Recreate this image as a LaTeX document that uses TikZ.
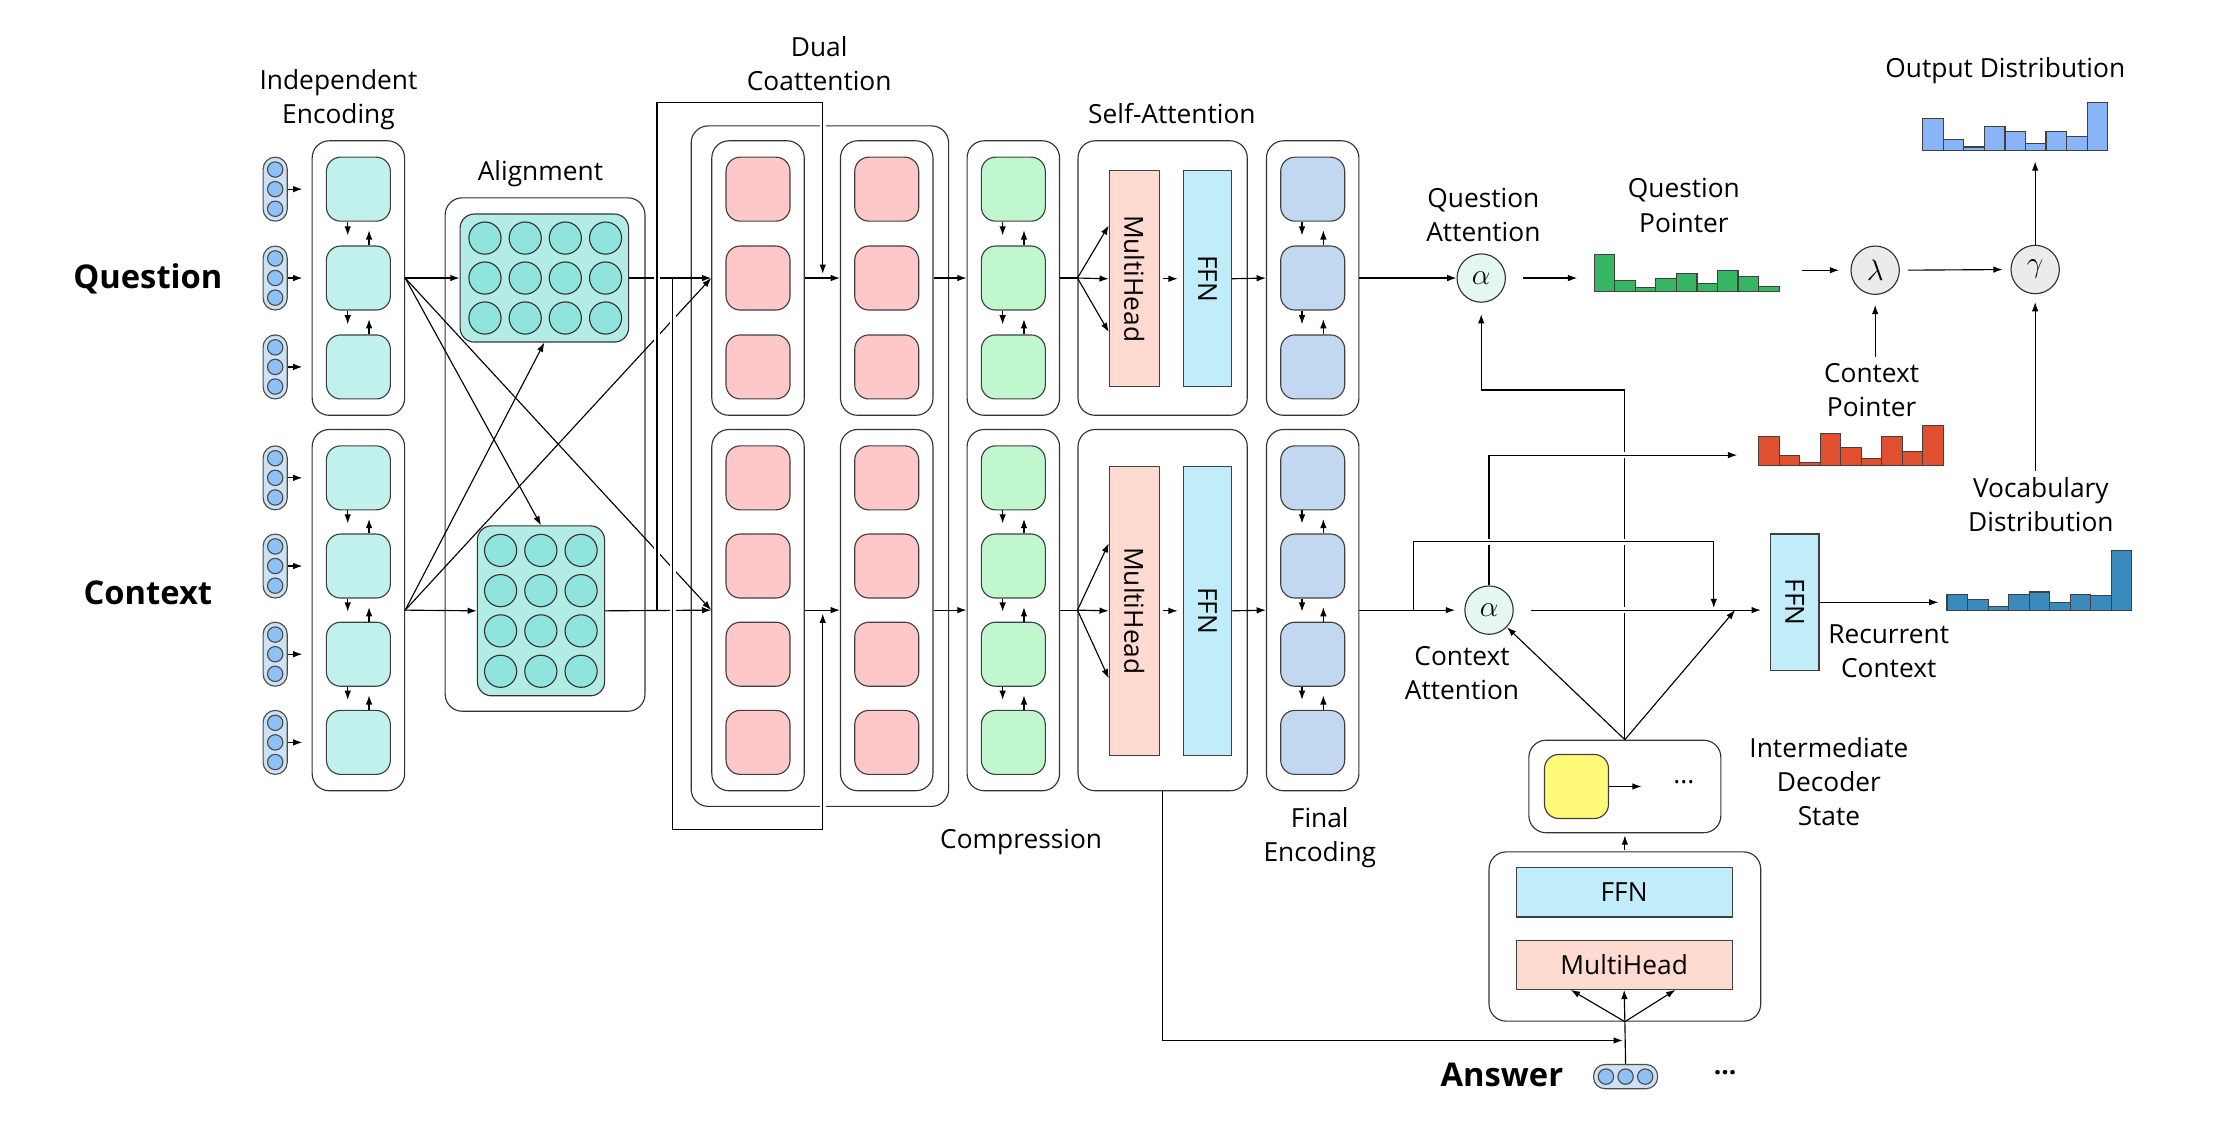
\documentclass[tikz,border=0pt]{standalone}
\usepackage{fontspec}
\setmainfont{Open Sans}
\usetikzlibrary{arrows.meta}

\definecolor{tokfill}{RGB}{207,226,243}
\definecolor{dotfill}{RGB}{142,194,245}
\definecolor{encfill}{RGB}{192,241,236}
\definecolor{gridfill}{RGB}{178,236,228}
\definecolor{beadfill}{RGB}{143,229,222}
\definecolor{pinkfill}{RGB}{255,200,200}
\definecolor{greenfill}{RGB}{192,247,206}
\definecolor{bluefill}{RGB}{193,216,240}
\definecolor{mhfill}{RGB}{255,218,208}
\definecolor{ffnfill}{RGB}{193,236,250}
\definecolor{attfill}{RGB}{228,247,241}
\definecolor{mixfill}{RGB}{235,235,235}
\definecolor{yelfill}{RGB}{255,250,120}
\definecolor{hgreen}{RGB}{54,181,98}
\definecolor{hred}{RGB}{224,80,48}
\definecolor{hblue}{RGB}{138,180,248}
\definecolor{hdark}{RGB}{58,138,188}

\tikzset{
  arr/.style={-{Latex[length=6.5pt,width=4.6pt]}},
  jump/.style={preaction={draw=white,line width=4pt,-,shorten <=4pt,shorten >=4pt}},
  lbl/.style={font=\fontsize{18.5}{24}\selectfont, align=center, inner sep=1pt},
  big/.style={font=\fontsize{23}{28}\selectfont\bfseries, inner sep=1pt},
  pill/.style={draw=black!70, fill=tokfill, rounded corners=8.5pt, minimum width=17pt, minimum height=45pt, inner sep=0pt},
  bead/.style={draw=black!70, fill=dotfill},
  bead2/.style={draw=black!80, fill=beadfill},
  cell/.style={draw=black!75, rounded corners=10pt, minimum size=45pt, inner sep=0pt},
  grp/.style={draw=black!80, rounded corners=12pt, inner sep=0pt},
  grid/.style={draw=black!80, fill=gridfill, rounded corners=10pt, inner sep=0pt},
  blk/.style={draw=black!75, inner sep=0pt, font=\fontsize{18.5}{24}\selectfont},
  att/.style={circle, draw=black!80, fill=attfill, minimum size=34pt, inner sep=0pt, font=\fontsize{20}{20}\selectfont},
  mix/.style={att, fill=mixfill},
  hbox/.style={inner sep=0pt, outer sep=0pt},
  bar/.style={draw=black!75, line width=0.8pt},
}

% bars of a histogram, from the south west corner of node #1
\newcommand\histbars[4]{%
  \foreach \h [count=\i] in {#4}
    \draw[bar, fill=#2] ([xshift={(\i-1)*#3pt}]#1.south west) rectangle ++(#3,-\h);
}

\begin{document}
\begin{tikzpicture}[x=1pt,y=-1pt,line width=0.8pt]
\useasboundingbox (0,0) rectangle (1568,795);

%%%%% inputs %%%%%
\node[big] (t-q) at (104,196) {Question};
\node[big] (t-c) at (104,417) {Context};
\node[big] (t-a) at (1056,756) {Answer};

\foreach \y [count=\i] in {133,195.5,258}{
  \node[pill] (pq\i) at (193.5,\y) {};
  \foreach \d in {-13.8,0,13.8} \draw[bead] (193.5,{\y+(\d)}) circle (5.4pt);
}
\foreach \y [count=\i] in {336,398,460,522}{
  \node[pill] (pc\i) at (193.5,\y) {};
  \foreach \d in {-13.8,0,13.8} \draw[bead] (193.5,{\y+(\d)}) circle (5.4pt);
}

%%%%% columns of cells %%%%%
\node[grp, minimum width=140.5pt, minimum height=361pt] (align) at (383.25,319.6) {};
\node[grp, minimum width=181pt, minimum height=478.5pt] (coatt) at (576.5,327.75) {};

\foreach \col/\cx/\clr in {enc/252/encfill, coa/533/pinkfill, cob/623.5/pinkfill, cmp/712.5/greenfill, fin/923/bluefill}{
  \node[grp, minimum width=65pt, minimum height=193pt] (\col-q) at (\cx,195.5) {};
  \node[grp, minimum width=65pt, minimum height=254pt] (\col-c) at (\cx,429) {};
  \foreach \y [count=\i] in {133,195.5,258}
    \node[cell, fill=\clr] (\col-q\i) at (\cx,\y) {};
  \foreach \y [count=\i] in {336,398,460,522}
    \node[cell, fill=\clr] (\col-c\i) at (\cx,\y) {};
}

\foreach \col in {enc,cmp,fin}{
  \foreach \a/\b in {1/2,2/3}{
    \draw[arr, shorten >=7pt] ([xshift=-7.5pt]\col-q\a.south) -- ([xshift=-7.5pt]\col-q\b.north);
    \draw[arr, shorten >=6pt] ([xshift=7.5pt]\col-q\b.north) -- ([xshift=7.5pt]\col-q\a.south);
  }
  \foreach \a/\b in {1/2,2/3,3/4}{
    \draw[arr, shorten >=7pt] ([xshift=-7.5pt]\col-c\a.south) -- ([xshift=-7.5pt]\col-c\b.north);
    \draw[arr, shorten >=6pt] ([xshift=7.5pt]\col-c\b.north) -- ([xshift=7.5pt]\col-c\a.south);
  }
}

%%%%% alignment %%%%%
\node[grid, minimum width=118.5pt, minimum height=90pt] (qgrid) at (382.75,195.5) {};
\node[grid, minimum width=89.5pt, minimum height=119.5pt] (cgrid) at (380.4,429.5) {};
\foreach \x in {341,369.3,397.5,425.8}
  \foreach \y in {167.4,195.5,223.6} \draw[bead2] (\x,\y) circle (11.3pt);
\foreach \x in {352,380.3,408.6}
  \foreach \y in {387,415.3,443.6,472} \draw[bead2] (\x,\y) circle (11.3pt);

%%%%% self-attention %%%%%
\node[grp, minimum width=119pt, minimum height=193pt] (sa-q) at (817.5,195.5) {};
\node[grp, minimum width=119pt, minimum height=254pt] (sa-c) at (817.5,429) {};
\node[blk, fill=mhfill, minimum width=35pt, minimum height=152pt] (mh-q) at (797.5,196) {\rotatebox{-90}{MultiHead}};
\node[blk, fill=ffnfill, minimum width=34pt, minimum height=152pt] (ffn-q) at (849,196) {\rotatebox{-90}{FFN}};
\node[blk, fill=mhfill, minimum width=35pt, minimum height=203pt] (mh-c) at (797.5,429.5) {\rotatebox{-90}{MultiHead}};
\node[blk, fill=ffnfill, minimum width=34pt, minimum height=203pt] (ffn-c) at (849,429.5) {\rotatebox{-90}{FFN}};

%%%%% labels %%%%%
\node[lbl] (l-ie) at (238,70) {Independent\\Encoding};
\node[lbl] (l-al) at (380,122) {Alignment};
\node[lbl] (l-dc) at (576,44.5) {Dual\\Coattention};
\node[lbl] (l-sa) at (824,80) {Self-Attention};
\node[lbl] (l-cm) at (718,592) {Compression};
\node[lbl] (l-fe) at (928,589) {Final\\Encoding};
\node[lbl] (l-qa) at (1043,151) {Question\\Attention};
\node[lbl] (l-qp) at (1184,144.5) {Question\\Pointer};
\node[lbl] (l-od) at (1410,50) {Output Distribution};
\node[lbl] (l-cp) at (1316,274) {Context\\Pointer};
\node[lbl] (l-vd) at (1435,355) {Vocabulary\\Distribution};
\node[lbl] (l-rc) at (1328,458) {Recurrent\\Context};
\node[lbl] (l-ca) at (1028,473) {Context\\Attention};
\node[lbl] (l-ds) at (1286,549.5) {Intermediate\\Decoder\\State};

%%%%% pointers and decoder %%%%%
\node[att] (alpha-q) at (1041.5,195.5) {$\alpha$};
\node[att] (alpha-c) at (1047,429) {$\alpha$};
\node[mix] (lam) at (1318.5,190) {$\lambda$};
\node[mix] (gam) at (1431,189.5) {$\gamma$};
\node[blk, fill=ffnfill, minimum width=34pt, minimum height=96pt] (ffn-r) at (1262,423.5) {\rotatebox{-90}{FFN}};

\node[hbox, minimum width=130pt, minimum height=26pt, anchor=south west] (histq) at (1121,205) {};
\histbars{histq}{hgreen}{14.44}{26,7.7,2.6,9.1,12.9,5.4,14.9,10.4,3.5}
\node[hbox, minimum width=130pt, minimum height=34pt, anchor=south west] (histo) at (1352,106) {};
\histbars{histo}{hblue}{14.44}{22.7,7.7,2.6,17.3,13.8,5.4,13.8,10.3,34}
\node[hbox, minimum width=130pt, minimum height=28pt, anchor=south west] (histc) at (1236.5,327.5) {};
\histbars{histc}{hred}{14.44}{20.4,7.5,2.3,22.7,12.7,4.9,20.4,10.1,28.1}
\node[hbox, minimum width=130pt, minimum height=42pt, anchor=south west] (histv) at (1369,429) {};
\histbars{histv}{hdark}{14.44}{11,7.5,2.3,11.2,12.7,5.2,11.2,10.3,41.7}

\node[grp, minimum width=191pt, minimum height=119pt] (dec-b) at (1142.5,658.5) {};
\node[blk, fill=ffnfill, minimum width=152pt, minimum height=34.5pt] (ffn-d) at (1142,627.5) {FFN};
\node[blk, fill=mhfill, minimum width=152pt, minimum height=34.4pt] (mh-d) at (1142,678.4) {MultiHead};
\node[grp, minimum width=135pt, minimum height=65pt] (dec-s) at (1142.5,553) {};
\node[cell, fill=yelfill] (dec-y) at (1108.5,553) {};
\node[lbl, inner sep=0pt] (dec-dots) at (1184,550) {...};

\node[pill, minimum width=45pt, minimum height=17pt, rounded corners=8pt] (ans) at (1143,757) {};
\foreach \d in {-13.8,0,13.8} \draw[bead] ({1143+(\d)},757) circle (5.4pt);
\node[lbl, font=\fontsize{18.5}{24}\selectfont\bfseries] (ans-dots) at (1213,754) {...};

%%%%% connectors, left part %%%%%
\foreach \i in {1,2,3} \draw[arr, shorten >=6.5pt] (pq\i.east) -- (pq\i.east -| enc-q.west);
\foreach \i in {1,2,3,4} \draw[arr, shorten >=6.5pt] (pc\i.east) -- (pc\i.east -| enc-c.west);

\draw[arr] (enc-q.east) -- (qgrid.west);
\draw[arr] (enc-c.east) -- (cgrid.west);
\draw[arr] (qgrid.east) -- (coa-q.west);
\draw[arr] (cgrid.east) -- (coa-c.west);
\draw[arr] (coa-q.east) -- (cob-q.west);
\draw[arr] (coa-c.east) -- (cob-c.west);

\draw[arr] (enc-q.east) -- (cgrid.north);
\draw[arr] (enc-c.east) -- (qgrid.south);
\draw[arr] (enc-q.east) -- (coa-c.west);
\draw[arr] (enc-c.east) -- (coa-q.west);

\coordinate (ka) at (462,72);
\coordinate (kb) at (473,583);
\coordinate (qmid) at (578.5,195.5);
\coordinate (cmid) at (578.5,429);
\draw[arr, jump, shorten >=3pt] (cgrid.east -| ka) -- (ka) -| (qmid);
\draw[arr, jump, shorten >=2.5pt] (qgrid.east -| kb) -- (kb) -| (cmid);

%%%%% connectors, middle part %%%%%
\draw[arr] (cob-q.east) -- (cmp-q.west);
\draw[arr] (cob-c.east) -- (cmp-c.west);
\draw (cmp-q.east) -- (sa-q.west);
\draw (cmp-c.east) -- (sa-c.west);
\foreach \d in {-37.5,0,37.5} \draw[arr] (sa-q.west) -- ([yshift=\d pt]mh-q.west);
\foreach \d in {-47.5,0,47.5} \draw[arr] (sa-c.west) -- ([yshift=\d pt]mh-c.west);
\draw[arr, shorten <=2pt, shorten >=3.5pt] (mh-q.east) -- (ffn-q.west);
\draw[arr, shorten <=2pt, shorten >=3.5pt] (mh-c.east) -- (ffn-c.west);
\draw[arr] (ffn-q.east) -- (fin-q.west);
\draw[arr] (ffn-c.east) -- (fin-c.west);

%%%%% connectors, right part %%%%%
\draw[arr] (fin-q.east) -- (alpha-q.west);
\draw[arr, shorten <=12pt, shorten >=12pt] (alpha-q.east) -- (alpha-q.east -| histq.west);
\draw[arr, shorten <=16pt, shorten >=8pt] (histq.east |- lam.west) -- (lam.west);
\draw[arr, shorten <=5.5pt, shorten >=5.5pt] (lam.east) -- (gam.west);
\draw[arr, shorten >=7.5pt] (gam.north) -- (gam.north |- histo.south);
\draw[arr, shorten <=3pt, shorten >=7pt] (lam.south |- l-cp.north) -- (lam.south);
\draw[arr, shorten <=3pt, shorten >=5.5pt] (gam.south |- l-vd.north) -- (gam.south);
\draw[arr, shorten >=6.5pt] (fin-c.east) -- (alpha-c.west);

\coordinate (kq) at (1041.5,274.2);
\draw[arr, shorten >=8pt] (dec-s.north) |- (kq) -- (alpha-q.south);

\draw[arr, jump, shorten <=12pt, shorten >=6.5pt] (alpha-c.east) -- (alpha-c.east -| ffn-r.west);
\coordinate (kp) at (1047,320);
\draw[arr, jump, shorten >=15pt] (alpha-c.north) -- (kp) -- (kp -| histc.west);
\coordinate (kc) at (994,429);
\coordinate (kr) at (1205,381);
\draw[arr, jump, shorten >=1.5pt] (kc) |- (kr) -- (kr |- alpha-c.east);

\coordinate (kf) at (1220,429);
\draw[arr] (dec-s.north) -- (alpha-c);
\draw[arr] (dec-s.north) -- (kf);
\draw[arr, shorten >=6pt] (ffn-r.east) -- (ffn-r.east -| histv.west);

\draw[arr, shorten <=1pt, shorten >=1.5pt] (dec-b.north) -- (dec-s.south);
\draw[arr, shorten >=22pt] (dec-y.east) -- (dec-y.east -| dec-dots.west);
\foreach \d in {-37.5,0,36} \draw[arr] (dec-b.south) -- ([xshift=\d pt]mh-d.south);
\draw (ans.north) -- (dec-b.south);
\coordinate (kn) at (1142.5,731.6);
\draw[arr, shorten >=1.5pt] (sa-c.south) |- (kn);

\end{tikzpicture}
\end{document}
